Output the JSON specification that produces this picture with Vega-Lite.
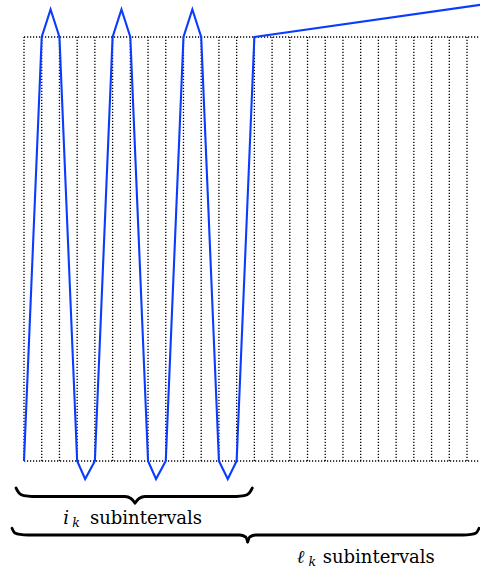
{
  "$schema": "https://vega.github.io/schema/vega-lite/v6.json",
  "width": 480,
  "height": 570,
  "padding": 0,
  "autosize": {"type": "none"},
  "background": "white",
  "config": {"view": {"stroke": null}},
  "datasets": {
    "grid": [{"k":0},{"k":1},{"k":2},{"k":3},{"k":4},{"k":5},{"k":6},{"k":7},{"k":8},{"k":9},{"k":10},{"k":11},{"k":12},{"k":13},{"k":14},{"k":15},{"k":16},{"k":17},{"k":18},{"k":19},{"k":20},{"k":21},{"k":22},{"k":23},{"k":24},{"k":25},{"k":26}],
    "hlines": [{"v":0},{"v":1}],
    "curve": [
      {"k":0,"v":0},{"k":1,"v":1},{"k":1.5,"v":1.065},{"k":2,"v":1},{"k":3,"v":0},{"k":3.45,"v":-0.0425},{"k":4,"v":0},
      {"k":5,"v":1},{"k":5.5,"v":1.065},{"k":6,"v":1},{"k":7,"v":0},{"k":7.45,"v":-0.0425},{"k":8,"v":0},
      {"k":9,"v":1},{"k":9.5,"v":1.065},{"k":10,"v":1},{"k":11,"v":0},{"k":11.5,"v":-0.0425},{"k":12,"v":0},
      {"k":13,"v":1},{"k":26,"v":1.0775}
    ],
    "braces": [
      {"seg":"b1l","i":0,"k":-0.4515,"v":-0.0637},{"seg":"b1l","i":1,"k":-0.2822,"v":-0.0755},{"seg":"b1l","i":2,"k":0,"v":-0.0818},{"seg":"b1l","i":3,"k":0.4515,"v":-0.0837},{"seg":"b1l","i":4,"k":5.7,"v":-0.0837},{"seg":"b1l","i":5,"k":6.038,"v":-0.0884},{"seg":"b1l","i":6,"k":6.264,"v":-0.0991},
      {"seg":"b1r","i":0,"k":6.264,"v":-0.0991},{"seg":"b1r","i":1,"k":6.49,"v":-0.0884},{"seg":"b1r","i":2,"k":6.828,"v":-0.0837},{"seg":"b1r","i":3,"k":11.981,"v":-0.0837},{"seg":"b1r","i":4,"k":12.432,"v":-0.0818},{"seg":"b1r","i":5,"k":12.715,"v":-0.0755},{"seg":"b1r","i":6,"k":12.884,"v":-0.0637},
      {"seg":"b2l","i":0,"k":-0.677,"v":-0.1587},{"seg":"b2l","i":1,"k":-0.508,"v":-0.1698},{"seg":"b2l","i":2,"k":-0.226,"v":-0.1733},{"seg":"b2l","i":3,"k":0.226,"v":-0.1745},{"seg":"b2l","i":4,"k":12.173,"v":-0.1745},{"seg":"b2l","i":5,"k":12.511,"v":-0.1792},{"seg":"b2l","i":6,"k":12.624,"v":-0.191},
      {"seg":"b2r","i":0,"k":12.624,"v":-0.191},{"seg":"b2r","i":1,"k":12.737,"v":-0.1792},{"seg":"b2r","i":2,"k":13.076,"v":-0.1745},{"seg":"b2r","i":3,"k":24.774,"v":-0.1745},{"seg":"b2r","i":4,"k":25.226,"v":-0.1733},{"seg":"b2r","i":5,"k":25.508,"v":-0.1698},{"seg":"b2r","i":6,"k":25.677,"v":-0.1587}
    ],
    "words": [{"k":3.725,"v":-0.1486,"t":"subintervals"},{"k":16.86,"v":-0.2399,"t":"subintervals"}],
    "vars": [{"k":2.22,"v":-0.1486,"t":"i"},{"k":15.39,"v":-0.2399,"t":"ℓ"}],
    "subs": [{"k":2.72,"v":-0.1568,"t":"k"},{"k":16.05,"v":-0.2488,"t":"k"}]
  },
  "encoding": {
    "x": {"type": "quantitative", "scale": {"domain": [-1.3544, 25.7336], "nice": false, "zero": false}, "axis": null},
    "y": {"type": "quantitative", "scale": {"domain": [-0.2571, 1.0873], "nice": false, "zero": false}, "axis": null}
  },
  "layer": [
    {
      "data": {"name": "grid"},
      "mark": {"type": "rule", "color": "black", "strokeWidth": 1.3, "strokeDash": [1.2, 1.8], "clip": true},
      "encoding": {"x": {"field": "k", "type": "quantitative"}, "y": {"datum": 0}, "y2": {"datum": 1}}
    },
    {
      "data": {"name": "hlines"},
      "mark": {"type": "rule", "color": "black", "strokeWidth": 1.3, "strokeDash": [1.2, 1.8], "clip": true},
      "encoding": {"y": {"field": "v", "type": "quantitative"}, "x": {"datum": 0}, "x2": {"datum": 26}}
    },
    {
      "data": {"name": "curve"},
      "mark": {"type": "line", "color": "#0a3cff", "strokeWidth": 2.1, "clip": true, "strokeJoin": "miter"},
      "encoding": {"x": {"field": "k", "type": "quantitative"}, "y": {"field": "v", "type": "quantitative"}, "order": {"field": "k"}}
    },
    {
      "data": {"name": "braces"},
      "mark": {"type": "line", "color": "black", "strokeWidth": 2.8, "interpolate": "monotone", "clip": true, "strokeCap": "round"},
      "encoding": {"x": {"field": "k", "type": "quantitative"}, "y": {"field": "v", "type": "quantitative"}, "detail": {"field": "seg"}, "order": {"field": "i"}}
    },
    {
      "data": {"name": "words"},
      "mark": {"type": "text", "align": "left", "baseline": "alphabetic", "font": "DejaVu Serif", "fontSize": 18, "color": "black"},
      "encoding": {"x": {"field": "k", "type": "quantitative"}, "y": {"field": "v", "type": "quantitative"}, "text": {"field": "t"}}
    },
    {
      "data": {"name": "vars"},
      "mark": {"type": "text", "align": "left", "baseline": "alphabetic", "font": "DejaVu Serif", "fontStyle": "italic", "fontSize": 18, "color": "black"},
      "encoding": {"x": {"field": "k", "type": "quantitative"}, "y": {"field": "v", "type": "quantitative"}, "text": {"field": "t"}}
    },
    {
      "data": {"name": "subs"},
      "mark": {"type": "text", "align": "left", "baseline": "alphabetic", "font": "DejaVu Serif", "fontStyle": "italic", "fontSize": 12.5, "color": "black"},
      "encoding": {"x": {"field": "k", "type": "quantitative"}, "y": {"field": "v", "type": "quantitative"}, "text": {"field": "t"}}
    }
  ]
}
